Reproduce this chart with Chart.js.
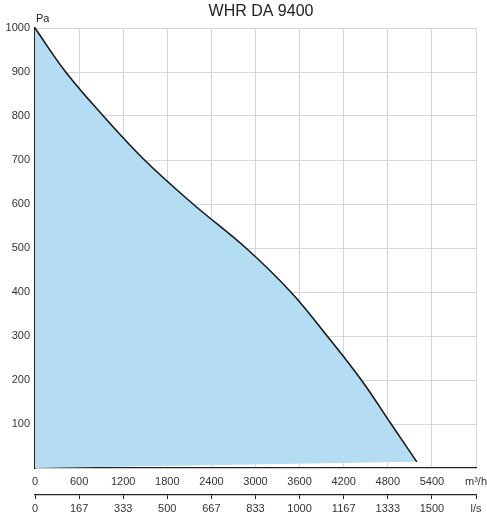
<!DOCTYPE html>
<html>
<head>
<meta charset="utf-8">
<script src="https://cdn.jsdelivr.net/npm/chart.js@4/dist/chart.umd.min.js"></script>
<style>
    body { margin: 0; background: #fff; }
    #wrap { width: 487px; height: 517px; }
</style>
</head>
<body>
<div id="wrap"><canvas id="fanChart" width="487" height="517"></canvas></div>
<script>
const title = "WHR DA 9400";
const yUnit = "Pa";

// curve: airflow m3/h vs pressure Pa
const flowM3h = [0, 418, 930, 1490, 2150, 2870, 3480, 3975, 4440, 4845, 5195];
const pressurePa = [1000, 900, 800, 700, 600, 500, 400, 300, 200, 100, 14];

// the shaded area closes back to the origin with a straight line
const baseFlow = [0, 5195];
const basePressure = [0, 14];

const m3hTicks = ["0", "600", "1200", "1800", "2400", "3000", "3600", "4200", "4800", "5400", "m³/h"];
const lsTicks = ["0", "167", "333", "500", "667", "833", "1000", "1167", "1333", "1500", "l/s"];
const yTicks = [100, 200, 300, 400, 500, 600, 700, 800, 900, 1000];

function makeChart() {
    const curve = flowM3h.map((x, i) => ({ x: x, y: pressurePa[i] }));
    const base = baseFlow.map((x, i) => ({ x: x, y: basePressure[i] }));
    const font = { family: "'Liberation Sans', Arial, sans-serif", size: 11 };

    const labelsPlugin = {
        id: "labels",
        afterDraw(chart) {
            const ctx = chart.ctx;
            const area = chart.chartArea;
            ctx.save();
            ctx.fillStyle = "#222";
            ctx.textBaseline = "middle";
            ctx.textAlign = "center";
            ctx.font = "16px 'Liberation Sans', Arial, sans-serif";
            ctx.fillText(title, area.left + 226, 12);
            ctx.textAlign = "left";
            ctx.font = "11px 'Liberation Sans', Arial, sans-serif";
            ctx.fillText(yUnit, area.left + 1, 19);
            ctx.restore();
        }
    };

    new Chart(document.getElementById("fanChart").getContext("2d"), {
        type: "scatter",
        data: {
            datasets: [{
                data: curve,
                showLine: true,
                borderColor: "#1a1a1a",
                borderWidth: 1.6,
                backgroundColor: "#b4dcf2",
                pointRadius: 0,
                tension: 0.4,
                fill: "+1",
                order: 1
            }, {
                data: base,
                showLine: true,
                borderWidth: 0,
                borderColor: "rgba(0,0,0,0)",
                pointRadius: 0,
                fill: false,
                order: 2
            }]
        },
        options: {
            responsive: false,
            animation: false,
            layout: { padding: { top: 28, right: 11, bottom: 0, left: 0 } },
            plugins: {
                legend: { display: false },
                tooltip: { enabled: false }
            },
            scales: {
                x: {
                    type: "linear",
                    position: "bottom",
                    min: 0,
                    max: 6000,
                    ticks: {
                        stepSize: 600,
                        padding: 7,
                        color: "#333",
                        font: font,
                        maxRotation: 0,
                        autoSkip: false,
                        callback: (v, i) => m3hTicks[i]
                    },
                    grid: { color: "#d6d6d6", lineWidth: 1, drawTicks: false },
                    border: { color: "#222", width: 1.3 },
                    afterFit: (s) => { s.height = 27; s.paddingLeft = 0; s.paddingRight = 0; }
                },
                x2: {
                    type: "linear",
                    position: "bottom",
                    min: 0,
                    max: 6000 / 3.6,
                    ticks: {
                        stepSize: 600 / 3.6,
                        padding: 3,
                        color: "#333",
                        font: font,
                        maxRotation: 0,
                        autoSkip: false,
                        callback: (v, i) => lsTicks[i]
                    },
                    grid: { drawOnChartArea: false, tickLength: 4, tickColor: "#222", color: "#222" },
                    border: { color: "#222", width: 1.3 },
                    afterFit: (s) => { s.height = 22; s.paddingLeft = 0; s.paddingRight = 0; }
                },
                y: {
                    min: 0,
                    max: 1000,
                    afterBuildTicks: (s) => { s.ticks = yTicks.map(v => ({ value: v })); },
                    ticks: {
                        padding: 5,
                        color: "#333",
                        font: font,
                        callback: (v) => String(v)
                    },
                    grid: { color: "#d6d6d6", lineWidth: 1, drawTicks: false },
                    border: { color: "#222", width: 1.6 },
                    afterFit: (s) => { s.width = 35; s.paddingTop = 0; s.paddingBottom = 0; }
                }
            }
        },
        plugins: [labelsPlugin]
    });
}

makeChart();
</script>
</body>
</html>
